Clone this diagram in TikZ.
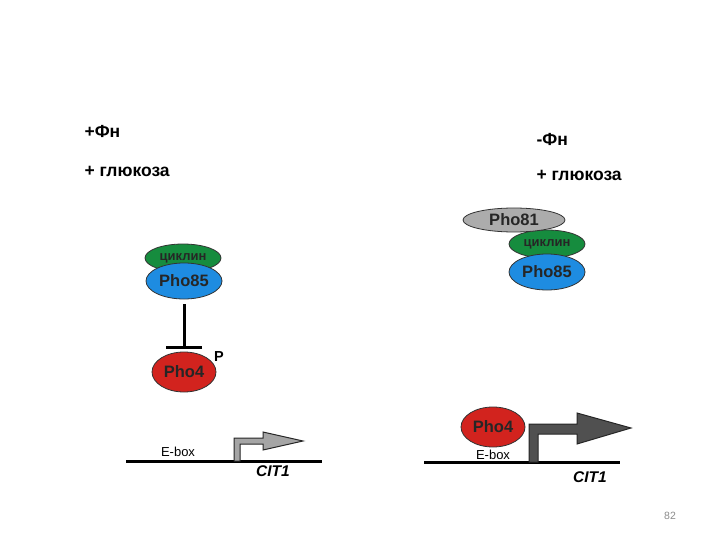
\documentclass[tikz,border=0pt]{standalone}
\usepackage{fontspec}
\setmainfont{Liberation Sans}
\usepackage{xcolor}
\usetikzlibrary{shapes.geometric,arrows.meta}
\definecolor{cycgreen}{RGB}{22,140,62}
\definecolor{phoblue}{RGB}{30,140,225}
\definecolor{phored}{RGB}{210,35,30}
\definecolor{phogray}{RGB}{172,172,172}
\definecolor{promlight}{RGB}{165,165,165}
\definecolor{promdark}{RGB}{80,80,80}

\begin{document}
\begin{tikzpicture}[x=1pt,y=-1pt,
  prot/.style={ellipse,draw=black!80,line width=0.8pt,inner sep=0pt,
    text=black!85,font=\fontsize{16.5}{16}\selectfont\bfseries},
  cyc/.style={prot,fill=cycgreen,minimum width=76pt,minimum height=28pt,
    font=\fontsize{13}{13}\selectfont\bfseries},
  cond/.style={anchor=west,font=\fontsize{17.5}{17}\selectfont\bfseries},
  ebox/.style={font=\fontsize{13}{13}\selectfont},
  gene/.style={font=\fontsize{15.5}{15}\selectfont\bfseries\itshape},
  dna/.style={line width=3pt},
  prom/.style={draw=black!85,line width=1pt,line join=miter}]
  \useasboundingbox (0,0) rectangle (720,540);

  % left: +Pi
  \node[cond] (plusL) at (81,131) {+Фн};
  \node[cond] (glucL) at (81,171) {+ глюкоза};
  \node[cyc] (cycL) at (183,258) {циклин};
  \node[prot,fill=phoblue,minimum width=76pt,minimum height=36pt] (pho85L) at (184,281) {Pho85};
  \node[prot,fill=phored,minimum width=64pt,minimum height=40pt] (pho4L) at (184,372) {Pho4};
  \node[font=\fontsize{14.5}{14}\selectfont\bfseries] (phosL) at (219,357) {P};
  \draw[line width=3pt,-{Bar[width=36pt]},shorten <=5pt,shorten >=3pt] (pho85L) -- (pho4L);
  \coordinate (dnaLa) at (126,461);
  \coordinate (dnaLb) at (322,461);
  \draw[dna] (dnaLa) -- (dnaLb);
  \node[ebox] (eboxL) at (178,452) {E-box};
  \node[gene] (citL) at (273,471) {CIT1};
  \draw[prom,fill=promlight] (234,461) -- (234,438) -- (263,438) -- (263,432) -- (303,441)
    -- (263,450) -- (263,444) -- (240,444) -- (240,461) -- cycle;

  % right: -Pi
  \node[cond] (plusR) at (533,139) {-Фн};
  \node[cond] (glucR) at (533,175) {+ глюкоза};
  \node[cyc] (cycR) at (547,244) {циклин};
  \node[prot,fill=phoblue,minimum width=76pt,minimum height=36pt] (pho85R) at (547,272) {Pho85};
  \node[prot,fill=phogray,minimum width=102pt,minimum height=24pt] (pho81R) at (514,220) {Pho81};
  \node[prot,fill=phored,minimum width=64pt,minimum height=40pt] (pho4R) at (493,427) {Pho4};
  \coordinate (dnaRa) at (424,462);
  \coordinate (dnaRb) at (620,462);
  \draw[dna] (dnaRa) -- (dnaRb);
  \node[ebox] (eboxR) at (493,455) {E-box};
  \node[gene] (citR) at (590,477) {CIT1};
  \draw[prom,fill=promdark] (529,462) -- (529,424) -- (577,424) -- (577,413) -- (631,428)
    -- (577,444) -- (577,434) -- (538,434) -- (538,462) -- cycle;

  \node[text=black!45,font=\fontsize{10.5}{10}\selectfont] (pnum) at (670,516) {82};
\end{tikzpicture}
\end{document}
